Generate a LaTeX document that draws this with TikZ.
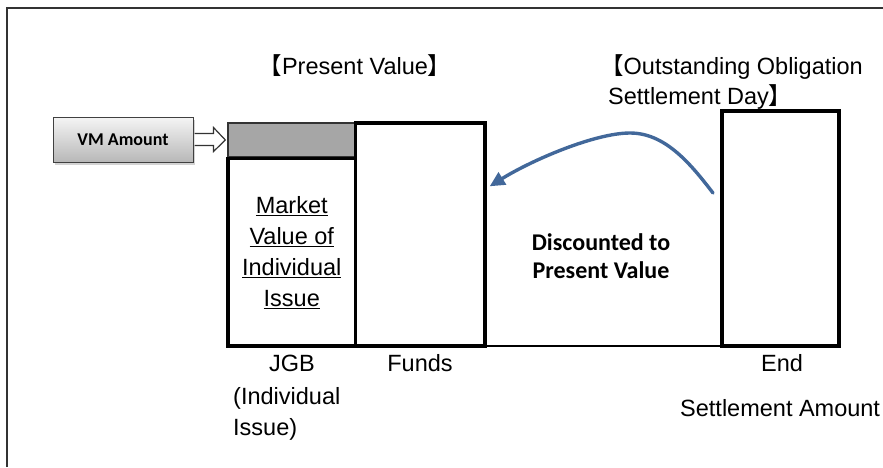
\documentclass[tikz,border=0pt]{standalone}
\usepackage{fontspec}
\setmainfont{Liberation Sans}
\newfontfamily\calibri{Carlito}
\newfontfamily\cjk{Noto Sans CJK JP}
\usetikzlibrary{arrows.meta,shadows,calc}

\definecolor{curveblue}{RGB}{66,104,154}
\definecolor{vmgray}{RGB}{166,166,166}

\tikzset{
  body/.style={font=\fontsize{23.5}{31}\selectfont},
  stackbox/.style={draw=black, line width=3.4pt, inner sep=0pt, fill=white},
  vmband/.style={draw=black!80, line width=1.3pt, fill=vmgray, inner sep=0pt},
  vmbox/.style={draw=black!75, line width=1pt, top color=black!4, bottom color=black!28,
    inner sep=0pt, minimum width=140pt, minimum height=45pt,
    font=\calibri\bfseries\fontsize{18}{20}\selectfont,
    drop shadow={opacity=0.35, shadow xshift=1.5pt, shadow yshift=-2.5pt}},
  vmarrow/.style={draw=black!80, line width=1.2pt, line join=miter},
  discount/.style={draw=curveblue, line width=3.4pt, line cap=round,
    -{Triangle[length=15pt,width=14pt]}},
  boldnote/.style={font=\calibri\bfseries\fontsize{24}{28}\selectfont},
  frameline/.style={draw=black!80, line width=2pt},
}

\begin{document}
\begin{tikzpicture}[x=1pt, y=-1pt, body]
  \useasboundingbox (0,0) rectangle (883,467);

  % outer frame (top and left edges)
  \draw[frameline] (7,467) -- (7,8) -- (883,8);

  % headings
  \node[anchor=base] (pvhead) at (355,74) {{\cjk 【}Present Value{\cjk 】}};
  \node[anchor=base west, inner sep=0pt] (sdhead1) at (600,74) {{\cjk 【}Outstanding Obligation};
  \node[anchor=base west, inner sep=0pt] (sdhead2) at (608,104) {Settlement Day{\cjk 】}};

  % ground line joining the columns
  \coordinate (groundL) at (485,346);
  \coordinate (groundR) at (722,346);
  \draw[line width=1.5pt] (groundL) -- (groundR);

  % present-value columns
  \node[vmband, minimum width=127.5pt, minimum height=34pt] (band) at (291.75,140) {};
  \node[stackbox, minimum width=127.5pt, minimum height=187.5pt, align=center] (jgb) at (291.75,252.25)
    {\underline{Market}\\\underline{Value of}\\\underline{Individual}\\\underline{Issue}};
  \node[stackbox, fill=none, minimum width=129.5pt, minimum height=223pt] (funds) at (420.25,234.5) {};

  % settlement-day column
  \node[stackbox, minimum width=117pt, minimum height=235pt] (endbox) at (780.5,228.5) {};

  % VM amount call-out and its block arrow
  \node[vmbox] (vm) at (123,139.5) {VM Amount};
  \coordinate (a1) at ($(vm.east)+(1,-6)$);
  \coordinate (a2) at ($(vm.east)+(20,-6)$);
  \coordinate (a3) at ($(vm.east)+(20,-12)$);
  \coordinate (a4) at ($(band.west)+(-2,0)$);
  \coordinate (a5) at ($(vm.east)+(20,12)$);
  \coordinate (a6) at ($(vm.east)+(20,6)$);
  \coordinate (a7) at ($(vm.east)+(1,6)$);
  \fill[white] (a1) -- (a2) -- (a3) -- (a4) -- (a5) -- (a6) -- (a7) -- cycle;
  \draw[vmarrow] (a1) -- (a2) -- (a3) -- (a4) -- (a5) -- (a6) -- (a7);

  % discounting curve
  \coordinate (dstart) at (713,193);
  \coordinate (dpeak) at (630,133);
  \coordinate (dtip) at ($(funds.north east)+(3,65)$);
  \draw[discount] (dstart) .. controls (690,163) and (665,133) .. (dpeak)
                           .. controls (595,133) and (532,160) .. (dtip);
  \node[boldnote, align=center] (disc) at (601,256) {Discounted to\\Present Value};

  % column labels
  \node[anchor=base] (jgblab) at (292,371) {JGB};
  \node[anchor=base west, inner sep=0pt] (jgbsub1) at (233,404) {(Individual};
  \node[anchor=base west, inner sep=0pt] (jgbsub2) at (233,435) {Issue)};
  \node[anchor=base] (fundslab) at (420,371) {Funds};
  \node[anchor=base] (endlab) at (782,371) {End};
  \node[anchor=base west, inner sep=0pt] (settle) at (680,416) {Settlement Amount};
\end{tikzpicture}
\end{document}
